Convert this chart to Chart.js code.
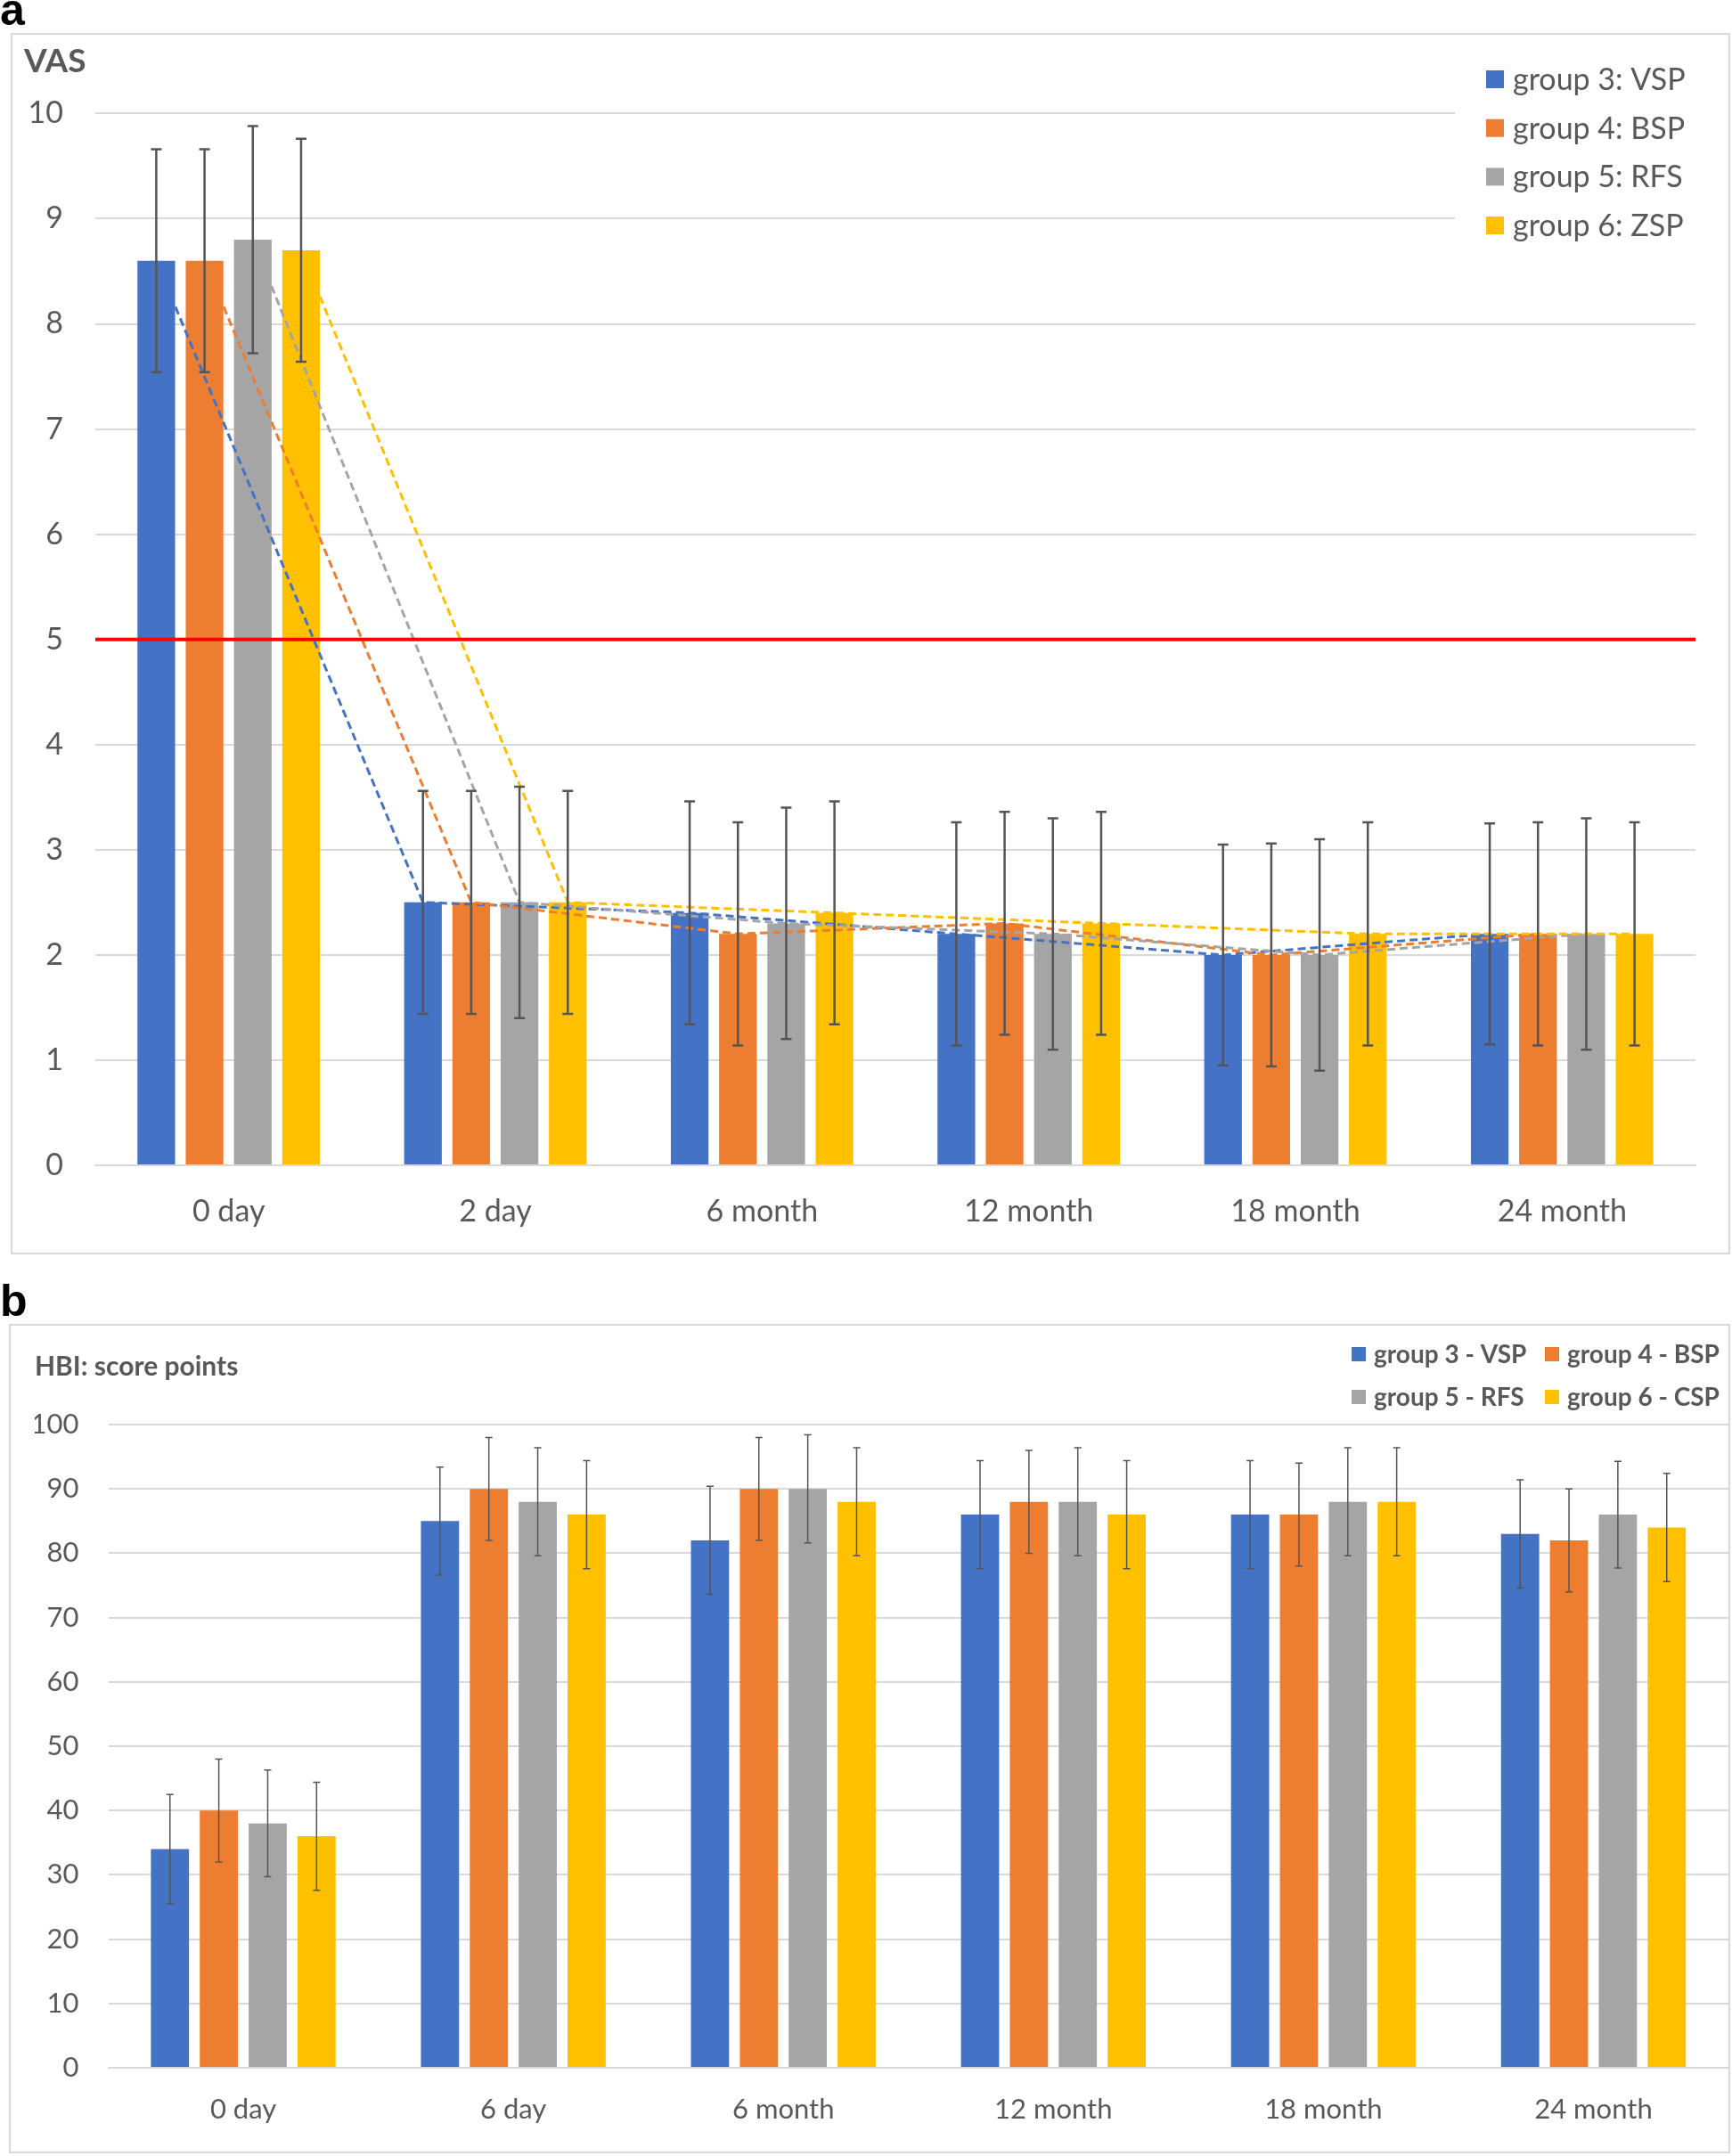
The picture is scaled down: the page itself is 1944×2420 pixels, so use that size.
<!DOCTYPE html>
<html>
<head>
<meta charset="utf-8">
<title>VAS e HBI por grupo</title>
<script src="https://cdn.jsdelivr.net/npm/chart.js@4.4.1/dist/chart.umd.min.js"></script>
<style>
  html, body { margin: 0; padding: 0; background: #fff; }
  body { width: 1944px; height: 2420px; position: relative; overflow: hidden; }
  .letra { position: absolute; left: 0; font: bold 50px "Liberation Sans", Arial, sans-serif; line-height: 50px; color: #000; }
  .painel { position: absolute; border: 2px solid #d9d9d9; }
  .painel canvas { display: block; }
</style>
</head>
<body>
<div class="letra" style="top:-14px">a</div>
<div class="painel" style="left:12px; top:37px;">
  <canvas id="graficoVAS" width="1926" height="1367"></canvas>
</div>
<div class="letra" style="top:1435px">b</div>
<div class="painel" style="left:10px; top:1486px;">
  <canvas id="graficoHBI" width="1928" height="927"></canvas>
</div>
<script>
// Dados do grafico a (VAS)
const CATEGORIAS_VAS = ['0 day', '2 day', '6 month', '12 month', '18 month', '24 month'];
const GRUPOS_VAS = ['group 3: VSP', 'group 4: BSP', 'group 5: RFS', 'group 6: ZSP'];
const VAS_G3 = [8.6, 2.5, 2.4, 2.2, 2.0, 2.2];
const VAS_G4 = [8.6, 2.5, 2.2, 2.3, 2.0, 2.2];
const VAS_G5 = [8.8, 2.5, 2.3, 2.2, 2.0, 2.2];
const VAS_G6 = [8.7, 2.5, 2.4, 2.3, 2.2, 2.2];
const ERRO_VAS_G3 = [1.06, 1.06, 1.06, 1.06, 1.05, 1.05];
const ERRO_VAS_G4 = [1.06, 1.06, 1.06, 1.06, 1.06, 1.06];
const ERRO_VAS_G5 = [1.08, 1.1, 1.1, 1.1, 1.1, 1.1];
const ERRO_VAS_G6 = [1.06, 1.06, 1.06, 1.06, 1.06, 1.06];
const LIMITE_VAS = 5; // linha vermelha
const VAS_MIN = 0;
const VAS_MAX = 10;
const VAS_PASSO = 1;

// Dados do grafico b (HBI)
const CATEGORIAS_HBI = ['0 day', '6 day', '6 month', '12 month', '18 month', '24 month'];
const GRUPOS_HBI = ['group 3 - VSP', 'group 4 - BSP', 'group 5 - RFS', 'group 6 - CSP'];
const HBI_G3 = [34, 85, 82, 86, 86, 83];
const HBI_G4 = [40, 90, 90, 88, 86, 82];
const HBI_G5 = [38, 88, 90, 88, 88, 86];
const HBI_G6 = [36, 86, 88, 86, 88, 84];
const ERRO_HBI_G3 = [8.5, 8.4, 8.4, 8.4, 8.4, 8.4];
const ERRO_HBI_G4 = [8, 8, 8, 8, 8, 8];
const ERRO_HBI_G5 = [8.3, 8.4, 8.4, 8.4, 8.4, 8.3];
const ERRO_HBI_G6 = [8.4, 8.4, 8.4, 8.4, 8.4, 8.4];
const HBI_MIN = 0;
const HBI_MAX = 100;
const HBI_PASSO = 10;

// Cores do excel
const CORES = ['#4472C4', '#ED7D31', '#A5A5A5', '#FFC000'];
const COR_TEXTO = '#595959';
const COR_GRADE = '#d9d9d9';
const COR_ERRO = '#555555';

// Tamanho das barras (igual nos dois)
const PCT_CATEGORIA = 0.724;
const PCT_BARRA = 0.78;

Chart.defaults.font.family = 'Lato, "Open Sans", sans-serif';
Chart.defaults.color = COR_TEXTO;

// Linhas tracejadas ligando o topo das barras de cada grupo + linha do limite
function criarPluginLinhas(qtdGrupos, limite) {
    return {
        id: 'linhasVAS',
        afterDatasetsDraw(chart) {
            const ctx = chart.ctx;
            const area = chart.chartArea;
            ctx.save();
            ctx.lineWidth = 3;
            ctx.setLineDash([9, 5]);
            for (let k = 0; k < qtdGrupos; k++) {
                const barras = chart.getDatasetMeta(k).data;
                ctx.strokeStyle = CORES[k];
                ctx.beginPath();
                for (let j = 0; j < barras.length; j++) {
                    if (j === 0) ctx.moveTo(barras[j].x, barras[j].y);
                    else ctx.lineTo(barras[j].x, barras[j].y);
                }
                ctx.stroke();
            }
            // linha vermelha
            ctx.setLineDash([]);
            ctx.strokeStyle = '#FF0000';
            ctx.lineWidth = 4;
            const yLimite = chart.scales.y.getPixelForValue(limite);
            ctx.beginPath();
            ctx.moveTo(area.left, yLimite);
            ctx.lineTo(area.right, yLimite);
            ctx.stroke();
            ctx.restore();
        }
    };
}

// Desenha as barras de erro em cima de cada barra
function criarPluginErro(vetoresErro, espessura, meiaTampa) {
    return {
        id: 'barrasDeErro',
        afterDatasetsDraw(chart) {
            const ctx = chart.ctx;
            const escalaY = chart.scales.y;
            ctx.save();
            ctx.strokeStyle = COR_ERRO;
            ctx.lineWidth = espessura;
            for (let i = 0; i < vetoresErro.length; i++) {
                const meta = chart.getDatasetMeta(i);
                const valores = chart.data.datasets[i].data;
                for (let j = 0; j < meta.data.length; j++) {
                    const barra = meta.data[j];
                    const yCima = escalaY.getPixelForValue(valores[j] + vetoresErro[i][j]);
                    const yBaixo = escalaY.getPixelForValue(valores[j] - vetoresErro[i][j]);
                    ctx.beginPath();
                    ctx.moveTo(barra.x, yCima);
                    ctx.lineTo(barra.x, yBaixo);
                    ctx.moveTo(barra.x - meiaTampa, yCima);
                    ctx.lineTo(barra.x + meiaTampa, yCima);
                    ctx.moveTo(barra.x - meiaTampa, yBaixo);
                    ctx.lineTo(barra.x + meiaTampa, yBaixo);
                    ctx.stroke();
                }
            }
            ctx.restore();
        }
    };
}

// Legenda feita na mao pra ficar no mesmo lugar do excel
function criarPluginLegenda(cfg) {
    return {
        id: 'legendaManual',
        afterDraw(chart) {
            const ctx = chart.ctx;
            ctx.save();
            if (cfg.fundo) {
                ctx.fillStyle = '#fff';
                ctx.fillRect(cfg.fundo[0], cfg.fundo[1], cfg.fundo[2], cfg.fundo[3]);
            }
            ctx.font = cfg.fonte;
            ctx.textBaseline = 'middle';
            ctx.textAlign = 'left';
            for (let i = 0; i < cfg.nomes.length; i++) {
                const col = i % cfg.colunas.length;
                const lin = Math.floor(i / cfg.colunas.length);
                const x = cfg.colunas[col];
                const y = cfg.linhaY + lin * cfg.passoLinha;
                ctx.fillStyle = CORES[i];
                ctx.fillRect(x, y - cfg.quadrado / 2, cfg.quadrado, cfg.quadrado);
                ctx.fillStyle = COR_TEXTO;
                ctx.fillText(cfg.nomes[i], x + cfg.quadrado + cfg.espaco, y + 1);
            }
            ctx.restore();
        }
    };
}

function datasetsBarras(nomes, series) {
    const lista = [];
    for (let k = 0; k < series.length; k++) {
        lista.push({
            label: nomes[k],
            data: series[k],
            backgroundColor: CORES[k],
            borderWidth: 0,
            categoryPercentage: PCT_CATEGORIA,
            barPercentage: PCT_BARRA
        });
    }
    return lista;
}

// Grafico a
const seriesVAS = [VAS_G3, VAS_G4, VAS_G5, VAS_G6];

new Chart(document.getElementById('graficoVAS'), {
    type: 'bar',
    data: { labels: CATEGORIAS_VAS, datasets: datasetsBarras(GRUPOS_VAS, seriesVAS) },
    options: {
        responsive: false,
        animation: false,
        events: [],
        layout: { padding: { left: 13, right: 37, top: 0, bottom: 0 } },
        plugins: {
            legend: { display: false },
            tooltip: { enabled: false },
            title: {
                display: true,
                text: 'VAS',
                align: 'start',
                color: COR_TEXTO,
                font: { size: 37, weight: 'bold' },
                padding: { top: 8, bottom: 36 }
            }
        },
        scales: {
            x: {
                grid: { display: false, drawTicks: false },
                border: { display: true, color: COR_GRADE, width: 2 },
                ticks: { font: { size: 34 }, color: COR_TEXTO, padding: 32 },
                afterFit(escala) { escala.height = 98; }
            },
            y: {
                min: VAS_MIN,
                max: VAS_MAX,
                ticks: { stepSize: VAS_PASSO, font: { size: 34 }, color: COR_TEXTO, padding: 36 },
                grid: { color: COR_GRADE, lineWidth: 2, drawTicks: false },
                border: { display: false },
                afterFit(escala) { escala.width = 80; }
            }
        }
    },
    plugins: [
        criarPluginLinhas(seriesVAS.length, LIMITE_VAS),
        criarPluginErro([ERRO_VAS_G3, ERRO_VAS_G4, ERRO_VAS_G5, ERRO_VAS_G6], 2.5, 6),
        criarPluginLegenda({
            nomes: GRUPOS_VAS,
            fundo: [1619, 20, 270, 220],
            fonte: '34px Lato, "Open Sans", sans-serif',
            colunas: [1654],
            linhaY: 50,
            passoLinha: 54.7,
            quadrado: 20,
            espaco: 10
        })
    ]
});

// Grafico b
const seriesHBI = [HBI_G3, HBI_G4, HBI_G5, HBI_G6];

new Chart(document.getElementById('graficoHBI'), {
    type: 'bar',
    data: { labels: CATEGORIAS_HBI, datasets: datasetsBarras(GRUPOS_HBI, seriesHBI) },
    options: {
        responsive: false,
        animation: false,
        events: [],
        layout: { padding: { left: 27, right: 0, top: 0, bottom: 0 } },
        plugins: {
            legend: { display: false },
            tooltip: { enabled: false },
            title: {
                display: true,
                text: 'HBI: score points',
                align: 'start',
                color: COR_TEXTO,
                font: { size: 30, weight: 'bold' },
                padding: { top: 28, bottom: 47 }
            }
        },
        scales: {
            x: {
                grid: { display: false, drawTicks: false },
                border: { display: true, color: COR_GRADE, width: 2 },
                ticks: { font: { size: 31 }, color: COR_TEXTO, padding: 28 },
                afterFit(escala) { escala.height = 94; }
            },
            y: {
                min: HBI_MIN,
                max: HBI_MAX,
                ticks: { stepSize: HBI_PASSO, font: { size: 31 }, color: COR_TEXTO, padding: 33 },
                grid: { color: COR_GRADE, lineWidth: 2, drawTicks: false },
                border: { display: false },
                afterFit(escala) { escala.width = 82.5; }
            }
        }
    },
    plugins: [
        criarPluginErro([ERRO_HBI_G3, ERRO_HBI_G4, ERRO_HBI_G5, ERRO_HBI_G6], 1.5, 4),
        criarPluginLegenda({
            nomes: GRUPOS_HBI,
            fundo: null,
            fonte: 'bold 28px Lato, "Open Sans", sans-serif',
            colunas: [1505, 1722],
            linhaY: 32,
            passoLinha: 48,
            quadrado: 16,
            espaco: 9
        })
    ]
});
</script>
</body>
</html>
